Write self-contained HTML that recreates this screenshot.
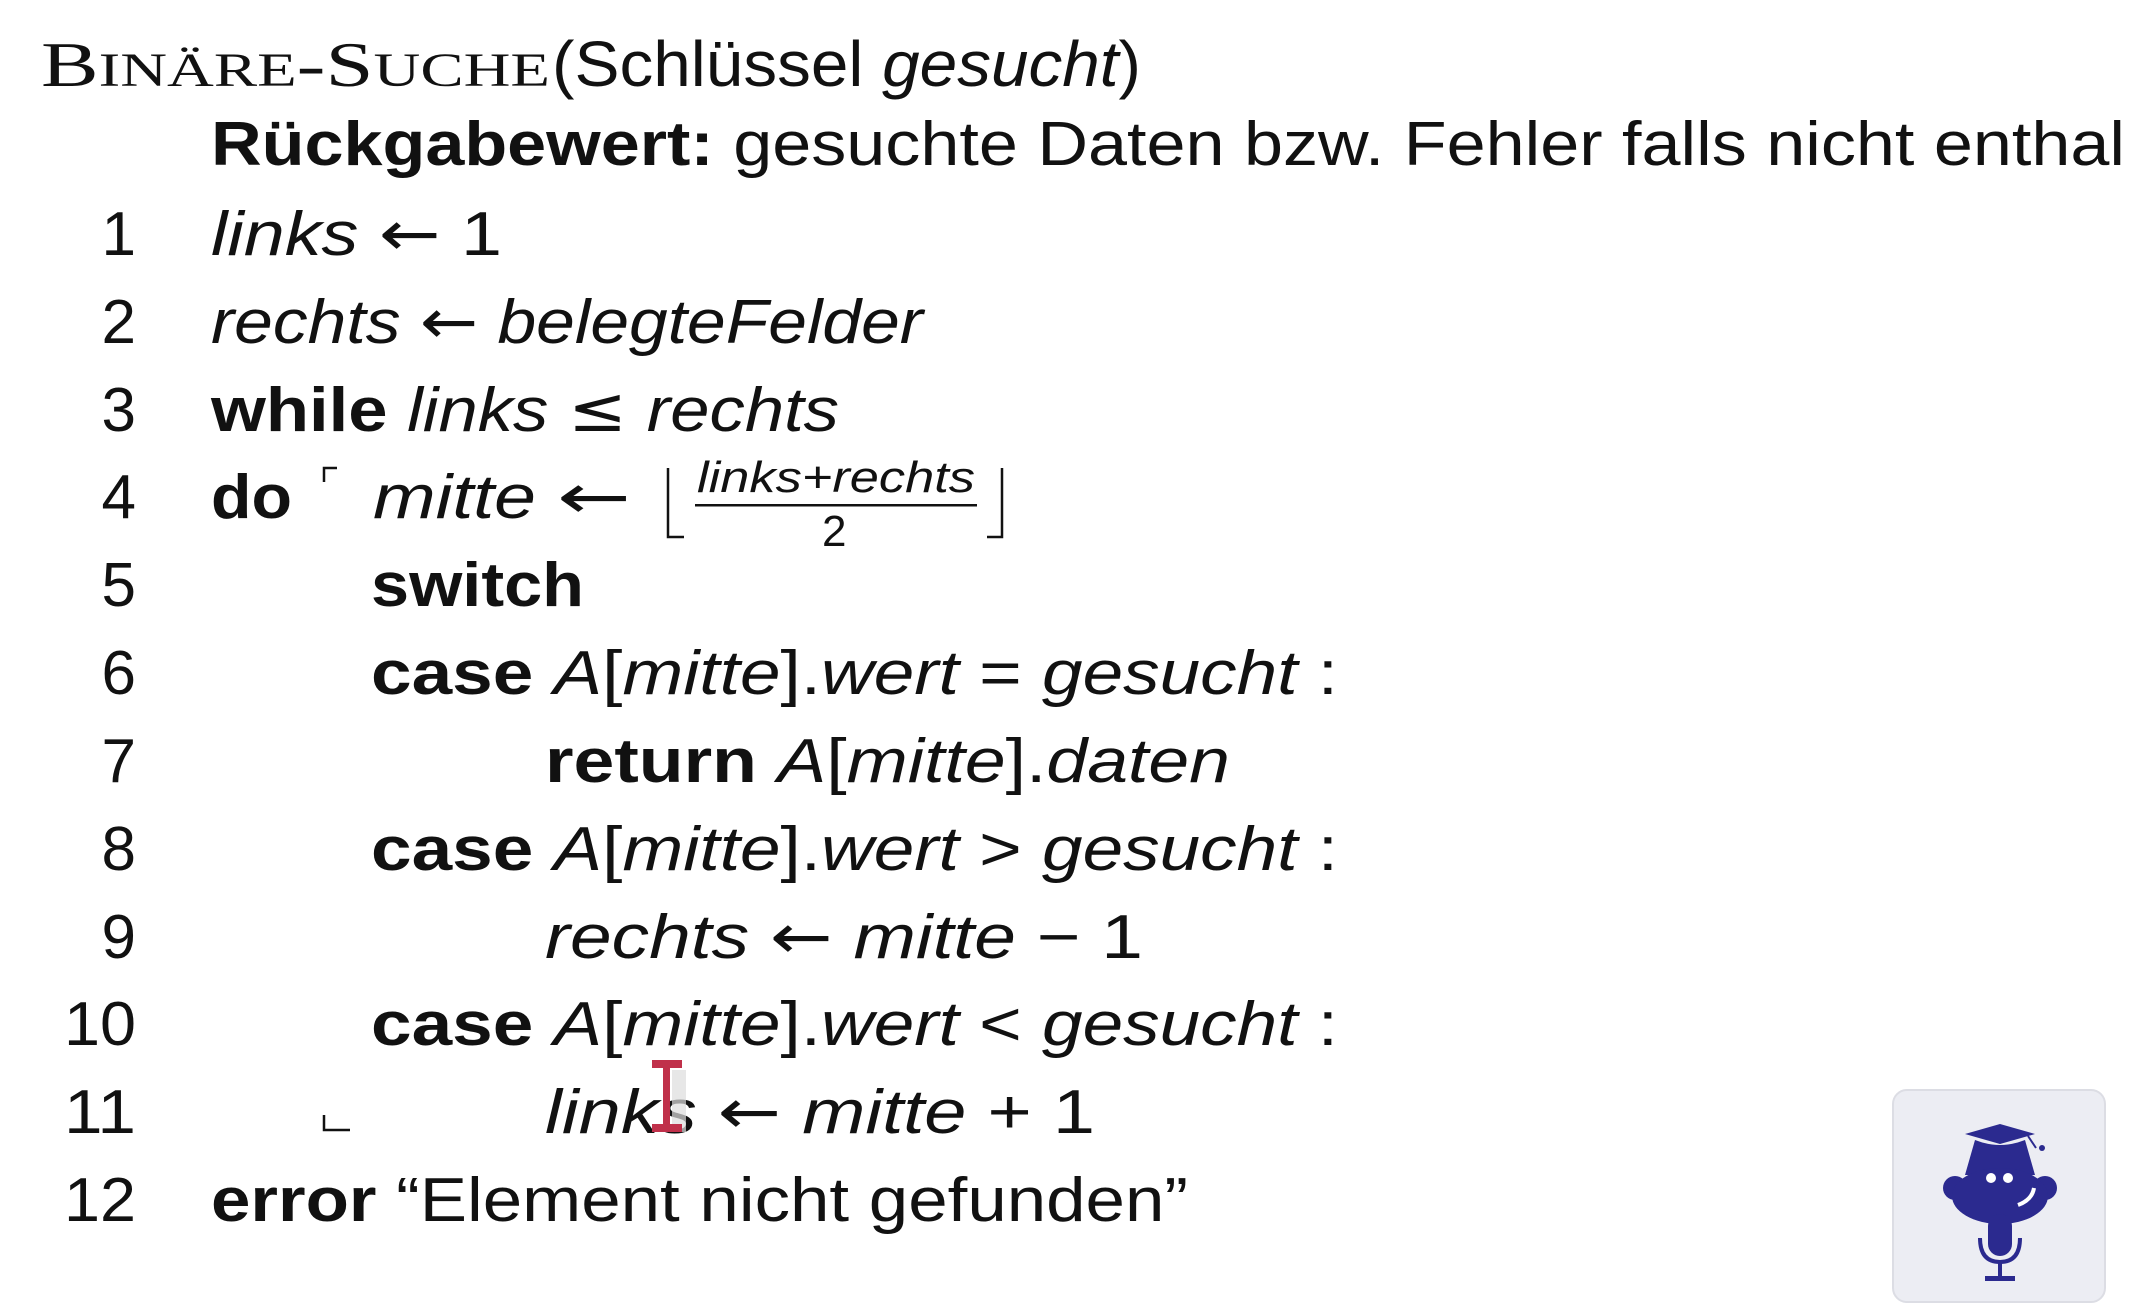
<!DOCTYPE html>
<html><head><meta charset="utf-8"><style>
html,body{margin:0;padding:0;background:#fff;width:2130px;height:1314px;overflow:hidden}
svg{display:block}
text{font-family:"Liberation Sans",sans-serif;fill:#111;font-size:62px}
.b{font-weight:bold}.i{font-style:italic}
.n{text-anchor:end}
.a{font-family:"DejaVu Sans",sans-serif;font-style:normal;font-weight:normal}
</style></head><body>
<svg width="2130" height="1314" viewBox="0 0 2130 1314">
<rect width="2130" height="1314" fill="#fff"/>
<text x="41" y="86" style="font-family:'Liberation Serif',serif;font-size:64px" textLength="509" lengthAdjust="spacingAndGlyphs">B<tspan style="font-size:48px">INÄRE</tspan>-S<tspan style="font-size:48px">UCHE</tspan></text>
<text x="552" y="86" textLength="589" lengthAdjust="spacingAndGlyphs" style="font-size:64px">(Schlüssel <tspan class="i">gesucht</tspan>)</text>
<text x="211" y="165" textLength="1914" lengthAdjust="spacingAndGlyphs"><tspan class="b">Rückgabewert:</tspan> gesuchte Daten bzw. Fehler falls nicht enthal</text>
<g>
<text class="n" x="136" y="255">1</text>
<text class="n" x="136" y="343">2</text>
<text class="n" x="136" y="431">3</text>
<text class="n" x="136" y="518">4</text>
<text class="n" x="136" y="606">5</text>
<text class="n" x="136" y="694">6</text>
<text class="n" x="136" y="782">7</text>
<text class="n" x="136" y="870">8</text>
<text class="n" x="136" y="958">9</text>
<text class="n" x="136" y="1045" textLength="72" lengthAdjust="spacingAndGlyphs">10</text>
<text class="n" x="136" y="1133" textLength="72" lengthAdjust="spacingAndGlyphs">11</text>
<text class="n" x="136" y="1221" textLength="72" lengthAdjust="spacingAndGlyphs">12</text>
</g>
<text x="211" y="255" textLength="291" lengthAdjust="spacingAndGlyphs"><tspan class="i">links</tspan> <tspan class="a">←</tspan> 1</text>
<text x="211" y="343" textLength="712" lengthAdjust="spacingAndGlyphs"><tspan class="i">rechts</tspan> <tspan class="a">←</tspan> <tspan class="i">belegteFelder</tspan></text>
<text x="211" y="431" textLength="628" lengthAdjust="spacingAndGlyphs"><tspan class="b">while</tspan> <tspan class="i">links</tspan> <tspan class="a">≤</tspan> <tspan class="i">rechts</tspan></text>
<text x="211" y="518" class="b" textLength="81" lengthAdjust="spacingAndGlyphs">do</text>
<path d="M324 482 V468 H337" stroke="#111" stroke-width="2.5" fill="none"/>
<text x="373" y="518" class="i" textLength="163" lengthAdjust="spacingAndGlyphs">mitte</text>
<text x="557" y="518" class="a" textLength="74" lengthAdjust="spacingAndGlyphs">←</text>
<path d="M668 468 V537 H684" stroke="#111" stroke-width="2.5" fill="none"/>
<path d="M987 537 H1002 V468" stroke="#111" stroke-width="2.5" fill="none"/>
<text x="697" y="492" class="i" style="font-size:44px" textLength="278" lengthAdjust="spacingAndGlyphs">links+rechts</text>
<rect x="695" y="504" width="282" height="2.5" fill="#111"/>
<text x="822" y="546" style="font-size:44px">2</text>
<text x="371" y="606" class="b" textLength="213" lengthAdjust="spacingAndGlyphs">switch</text>
<text x="371" y="694" textLength="967" lengthAdjust="spacingAndGlyphs"><tspan class="b">case</tspan> <tspan class="i">A</tspan>[<tspan class="i">mitte</tspan>].<tspan class="i">wert</tspan> = <tspan class="i">gesucht</tspan> :</text>
<text x="545" y="782" textLength="685" lengthAdjust="spacingAndGlyphs"><tspan class="b">return</tspan> <tspan class="i">A</tspan>[<tspan class="i">mitte</tspan>].<tspan class="i">daten</tspan></text>
<text x="371" y="870" textLength="967" lengthAdjust="spacingAndGlyphs"><tspan class="b">case</tspan> <tspan class="i">A</tspan>[<tspan class="i">mitte</tspan>].<tspan class="i">wert</tspan> &gt; <tspan class="i">gesucht</tspan> :</text>
<text x="545" y="958" textLength="598" lengthAdjust="spacingAndGlyphs"><tspan class="i">rechts</tspan> <tspan class="a">←</tspan> <tspan class="i">mitte</tspan> − 1</text>
<text x="371" y="1045" textLength="967" lengthAdjust="spacingAndGlyphs"><tspan class="b">case</tspan> <tspan class="i">A</tspan>[<tspan class="i">mitte</tspan>].<tspan class="i">wert</tspan> &lt; <tspan class="i">gesucht</tspan> :</text>
<path d="M324 1115 V1130 H350" stroke="#111" stroke-width="2.5" fill="none"/>
<text x="545" y="1133" textLength="550" lengthAdjust="spacingAndGlyphs"><tspan class="i">links</tspan> <tspan class="a">←</tspan> <tspan class="i">mitte</tspan> + 1</text>
<rect x="672" y="1070" width="14" height="62" fill="#ddd" opacity="0.7"/>
<rect x="663" y="1062" width="7" height="68" fill="#c0304a"/>
<rect x="652" y="1060" width="30" height="8" fill="#c0304a"/>
<rect x="652" y="1124" width="30" height="8" fill="#c0304a"/>
<text x="211" y="1221" textLength="977" lengthAdjust="spacingAndGlyphs"><tspan class="b">error</tspan> “Element nicht gefunden”</text>
<rect x="1893" y="1090" width="212" height="212" rx="14" fill="#ecedf3" stroke="#dcdde4" stroke-width="2"/>
<g fill="#2b2a8f">
<polygon points="1965,1134 2000,1124 2035,1134 2000,1144"/>
<path d="M2028 1136 L2036 1148" stroke="#2b2a8f" stroke-width="2"/>
<circle cx="2042" cy="1148" r="3"/>
<path d="M1975 1140 Q2000 1150 2025 1140 L2035 1175 H1965 Z"/>
<circle cx="1955" cy="1188" r="12"/>
<circle cx="2045" cy="1188" r="12"/>
<ellipse cx="2000" cy="1196" rx="48" ry="28"/>
<rect x="1988" y="1214" width="24" height="42" rx="12"/>
<path d="M1980 1238 Q1980 1262 2000 1262 Q2020 1262 2020 1238" stroke="#2b2a8f" stroke-width="4" fill="none"/>
<rect x="1998" y="1262" width="4" height="16"/>
<rect x="1985" y="1276" width="30" height="5"/>
</g>
<circle cx="1991" cy="1178" r="5" fill="#fff"/>
<circle cx="2008" cy="1178" r="5" fill="#fff"/>
<path d="M2018 1205 Q2032 1200 2034 1188" stroke="#fff" stroke-width="4" fill="none"/>
</svg>
</body></html>
